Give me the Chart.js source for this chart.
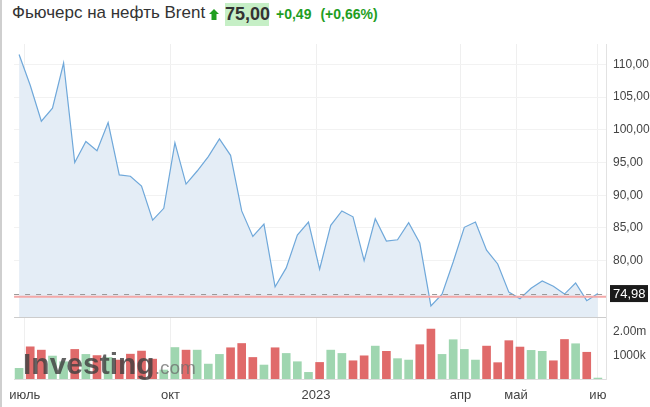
<!DOCTYPE html>
<html>
<head>
<meta charset="utf-8">
<script src="https://cdn.jsdelivr.net/npm/chart.js@4.4.1/dist/chart.umd.min.js"></script>
<style>
  body { margin: 0; background: #fff; font-family: Arial, "Liberation Sans", sans-serif; }
  #wrap { position: relative; width: 650px; height: 407px; overflow: hidden; }
  #leftline { position: absolute; left: 0; top: 0; width: 2px; height: 407px; background: #cfcfcf; }
  #name { position: absolute; left: 12px; top: 3px; font-size: 17px; line-height: 20px; color: #333; }
  #arrow { position: absolute; left: 209px; top: 9px; }
  #last { position: absolute; left: 225px; top: 3px; width: 44px; height: 23px; line-height: 23px;
          background: #c6efc6; color: #333; font-weight: bold; font-size: 18px; text-align: center; }
  #chg { position: absolute; left: 276px; top: 6px; font-size: 14px; line-height: 17px; font-weight: bold; color: #1f9e1f; }
  #chg span + span { margin-left: 9px; }
  canvas { position: absolute; left: 0; top: 0; }
</style>
</head>
<body>
<div id="wrap">
  <div id="leftline"></div>
  <div id="name">Фьючерс на нефть Brent</div>
  <svg id="arrow" width="10" height="11" viewBox="0 0 10 11"><path d="M5 0 L10 5 L7.5 5 L7.5 11 L2.5 11 L2.5 5 L0 5 Z" fill="#1f9e1f"/></svg>
  <div id="last">75,00</div>
  <div id="chg"><span>+0,49</span><span>(+0,66%)</span></div>
  <canvas id="chart" width="650" height="407"></canvas>
</div>
<script>
// недельные закрытия, июль 2022 - июнь 2023
const prices = [111.5, 106.8, 101.3, 103.3, 110.2, 95.0, 98.2, 96.8, 101.1, 93.1,
  92.9, 91.4, 86.2, 88.0, 98.0, 91.7, 93.7, 95.9, 98.6, 96.1,
  87.6, 83.7, 85.6, 76.0, 78.9, 83.9, 85.9, 78.7, 85.4, 87.6,
  86.7, 80.0, 86.4, 83.0, 83.2, 85.8, 82.7, 73.1, 74.9, 79.8,
  85.1, 85.9, 81.6, 79.5, 75.2, 74.2, 75.8, 76.9, 76.1, 74.9,
  76.6, 73.9, 74.98];

// объём, млн
const volumes = [0.45, 1.36, 1.22, 0.97, 0.73, 1.25, 1.04, 0.99, 0.91, 0.80,
  1.05, 1.18, 0.84, 0.38, 1.33, 1.22, 1.22, 0.63, 1.04, 1.32,
  1.50, 0.91, 0.59, 1.32, 1.08, 0.73, 0.28, 0.70, 1.22, 1.08,
  0.77, 0.98, 1.39, 1.17, 0.86, 0.80, 1.45, 2.11, 1.04, 1.66,
  1.25, 0.80, 1.39, 0.69, 1.62, 1.35, 1.21, 1.17, 0.77, 1.67,
  1.49, 1.13, 0.04];

const monthTicks = [0.51, 13.61, 26.68, 39.66, 44.65, 52.0];
const monthLabels = ["июль", "окт", "2023", "апр", "май", "ию"];
const priceTicks = [80, 85, 90, 95, 100, 105, 110];
const volumeTicks = [1, 2];
const volumeLabels = ["1000k", "2.00m"];

const lastPrice = 74.98;
const prevClose = 74.51;

const GREEN = "#9fd6b0";
const RED = "#e06a6a";

const overlay = {
  id: "overlay",
  afterDatasetsDraw(chart) {
    const { ctx, chartArea, scales } = chart;
    const y = scales.y;
    ctx.save();
    // граница ценовой панели
    ctx.strokeStyle = "#cccccc";
    ctx.lineWidth = 1;
    ctx.beginPath();
    ctx.moveTo(chartArea.left, Math.round(y.bottom) + 0.5);
    ctx.lineTo(chartArea.right, Math.round(y.bottom) + 0.5);
    ctx.stroke();

    // предыдущее закрытие
    const yp = y.getPixelForValue(prevClose);
    ctx.strokeStyle = "#f3a9a9";
    ctx.lineWidth = 2;
    ctx.beginPath();
    ctx.moveTo(chartArea.left, yp);
    ctx.lineTo(chartArea.right, yp);
    ctx.stroke();

    // последняя цена
    const yl = Math.round(y.getPixelForValue(lastPrice)) + 0.5;
    ctx.strokeStyle = "#9a9a9a";
    ctx.lineWidth = 1;
    ctx.setLineDash([5, 6]);
    ctx.beginPath();
    ctx.moveTo(chartArea.left, yl);
    ctx.lineTo(chartArea.right, yl);
    ctx.stroke();
    ctx.setLineDash([]);

    // водяной знак
    ctx.textBaseline = "alphabetic";
    ctx.fillStyle = "rgba(65,65,65,0.82)";
    ctx.font = "bold 30px Arial, 'Liberation Sans'";
    ctx.fillText("Investing", 23, 374);
    const w = ctx.measureText("Investing").width;
    ctx.fillStyle = "rgba(110,110,110,0.75)";
    ctx.font = "19px Arial, 'Liberation Sans'";
    ctx.fillText(".com", 23 + w, 374);
    ctx.restore();
  },
  afterDraw(chart) {
    const { ctx, chartArea, scales } = chart;
    const yl = scales.y.getPixelForValue(lastPrice);
    ctx.save();
    ctx.fillStyle = "#1b1b1b";
    ctx.fillRect(chartArea.right + 4, yl - 8.5, 38, 17);
    ctx.fillStyle = "#ffffff";
    ctx.font = "13px Arial, 'Liberation Sans'";
    ctx.textBaseline = "middle";
    ctx.fillText(lastPrice.toFixed(2).replace(".", ","), chartArea.right + 7, yl + 0.5);
    ctx.restore();
  }
};

const idx = prices.map((p, i) => i);

new Chart(document.getElementById("chart"), {
  type: "bar",
  data: {
    datasets: [
      {
        type: "line",
        data: idx.map(i => ({ x: i, y: prices[i] })),
        yAxisID: "y",
        borderColor: "#6fa8da",
        borderWidth: 1.2,
        backgroundColor: "#e4edf6",
        fill: "start",
        pointRadius: 0,
        tension: 0
      },
      {
        type: "bar",
        data: idx.map(i => ({ x: i, y: volumes[i] })),
        yAxisID: "yv",
        barThickness: 8,
        backgroundColor: ctx => {
          const i = ctx.dataIndex;
          return i === 0 || prices[i] >= prices[i - 1] ? GREEN : RED;
        }
      }
    ]
  },
  options: {
    responsive: false,
    animation: false,
    layout: { padding: { left: 12, top: 44, right: 0, bottom: 0 } },
    plugins: { legend: { display: false }, tooltip: { enabled: false } },
    scales: {
      x: {
        type: "linear",
        min: -0.45,
        max: 52.73,
        offset: false,
        afterBuildTicks: s => { s.ticks = monthTicks.map(v => ({ value: v })); },
        afterFit: s => { s.height = 28; },
        ticks: {
          autoSkip: false,
          maxRotation: 0,
          padding: 9,
          color: "#444",
          font: { size: 13, family: "Arial, 'Liberation Sans'" },
          callback: (v, i) => monthLabels[i]
        },
        grid: { color: "#efefef", drawTicks: false, offset: false },
        border: { color: "#dddddd" }
      },
      y: {
        position: "right",
        stack: "panels",
        stackWeight: 273,
        min: 71.4,
        max: 113.1,
        afterBuildTicks: s => { s.ticks = priceTicks.map(v => ({ value: v })); },
        afterFit: s => { s.width = 44; },
        ticks: {
          padding: 7,
          color: "#444",
          font: { size: 12, family: "Arial, 'Liberation Sans'" },
          callback: v => v.toFixed(2).replace(".", ",")
        },
        grid: { color: "#f2f2f2", drawTicks: false },
        border: { color: "#e2e2e2" }
      },
      yv: {
        position: "right",
        stack: "panels",
        stackWeight: 62,
        min: 0,
        max: 2.62,
        afterBuildTicks: s => { s.ticks = volumeTicks.map(v => ({ value: v })); },
        afterFit: s => { s.width = 44; },
        ticks: {
          padding: 7,
          color: "#444",
          font: { size: 12, family: "Arial, 'Liberation Sans'" },
          callback: (v, i) => volumeLabels[i]
        },
        grid: { display: false, drawTicks: false },
        border: { color: "#e2e2e2" }
      }
    }
  },
  plugins: [overlay]
});
</script>
</body>
</html>
